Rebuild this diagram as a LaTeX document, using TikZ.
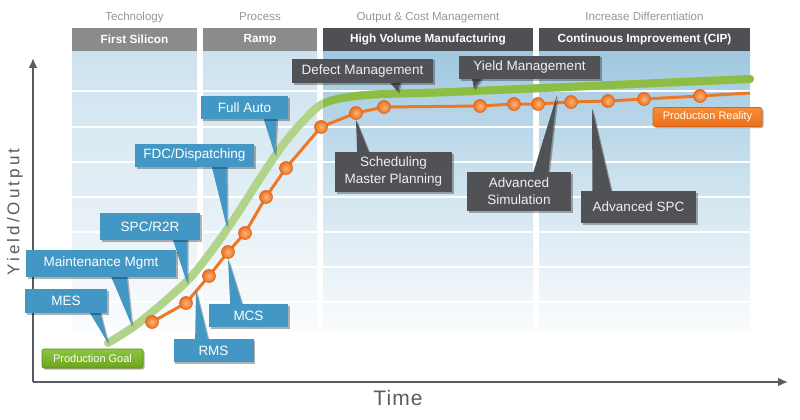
\documentclass[tikz,border=0pt]{standalone}
\usepackage{fontspec}
\setmainfont{Liberation Sans}
\usepackage{xcolor}
\usetikzlibrary{calc,shadows,arrows.meta}

\definecolor{callblue}{RGB}{67,151,197}
\definecolor{callgray}{RGB}{80,82,86}
\definecolor{barlight}{RGB}{137,139,141}
\definecolor{bardark}{RGB}{78,80,84}
\definecolor{coltopA}{RGB}{205,226,239}
\definecolor{colmidA}{RGB}{226,238,245}
\definecolor{coltopB}{RGB}{160,200,224}
\definecolor{colmidB}{RGB}{208,228,239}
\definecolor{colbot}{RGB}{250,252,253}
\definecolor{goallight}{RGB}{178,211,138}
\definecolor{goaldark}{RGB}{140,190,70}
\definecolor{realorange}{RGB}{238,120,35}
\definecolor{dotin}{RGB}{250,182,124}
\definecolor{dotout}{RGB}{236,112,30}
\definecolor{dotrim}{RGB}{222,100,25}
\definecolor{axisgray}{RGB}{88,92,96}
\definecolor{headgray}{RGB}{150,150,150}
\definecolor{goaltop}{RGB}{140,198,63}
\definecolor{goalbot}{RGB}{106,165,30}
\definecolor{goalrim}{RGB}{90,140,30}
\definecolor{realtop}{RGB}{247,140,55}
\definecolor{realbot}{RGB}{236,112,25}
\definecolor{realrim}{RGB}{215,100,25}

\pgfdeclarelayer{back}
\pgfdeclarelayer{ptr}
\pgfsetlayers{back,ptr,main}

\tikzset{
  shadowed/.style={drop shadow={shadow xshift=1.5pt,shadow yshift=-1.5pt,opacity=0.3,fill=black}},
  bluefill/.style={fill=callblue,shadowed},
  grayfill/.style={fill=callgray,shadowed},
  callout/.style={inner sep=0pt,outer sep=0pt,minimum height=23pt,align=center,
    font=\fontsize{13.5}{17}\selectfont},
  bluecall/.style={callout,bluefill,text=white},
  graycall/.style={callout,grayfill,text=black!6},
  bar/.style={minimum height=23pt,inner sep=0pt,outer sep=0pt,text=white,
    font=\bfseries\fontsize{11.8}{14}\selectfont},
  headline/.style={anchor=base,text=headgray,font=\fontsize{11.5}{14}\selectfont},
  axis/.style={axisgray,line width=2pt,-{Latex[length=10pt,width=9pt]}},
  goal/.style={goallight,line width=8pt,line cap=round},
  reality/.style={realorange,line width=3pt,line join=round},
  dot/.style={circle,minimum size=13pt,inner sep=0pt,draw=dotrim,line width=0.6pt,
    inner color=dotin,outer color=dotout},
  tag/.style={inner sep=0pt,minimum height=19pt,rounded corners=2pt,text=white,
    font=\fontsize{11}{13}\selectfont,line width=0.6pt,shadowed}
}

\begin{document}
\begin{tikzpicture}[x=1pt,y=-1pt]
  \useasboundingbox (0,0) rectangle (800,420);

  \begin{pgfonlayer}{back}
    \fill[white] (0,0) rectangle (800,420);
    % phase columns
    \foreach \xa/\xb/\tc/\mc in {72/197/coltopA/colmidA,203/317/coltopA/colmidA,
                                 323/533/coltopB/colmidB,539/750/coltopB/colmidB}
      \shade[top color=\tc,bottom color=colbot,middle color=\mc] (\xa,52) rectangle (\xb,330);
    \foreach \y in {91,127,162,197,232,267,302}
      \draw[white,line width=1.5pt] (72,\y) -- (750,\y);% row lines

    \coordinate (Origin)   at (33,382);
    \coordinate (YAxisMax) at (33,58);
    \coordinate (XAxisMax) at (788,382);
    \draw[axis] (Origin) -- (YAxisMax);% y axis
    \draw[axis] (Origin) -- (XAxisMax);% x axis

    % production goal curve
    \def\goalpath{plot[smooth,tension=0.55] coordinates {(108,343) (140,322) (185,283)
      (207,257) (232,222) (277,153) (307,117) (327,102) (367,95) (450,92) (600,85.5) (750,79)}}
    \draw[goal] \goalpath;
    \begin{scope}
      \clip (323,0) rectangle (800,420);
      \draw[goal,draw=goaldark] \goalpath;
    \end{scope}

    % production reality line
    \foreach \i/\x/\y in {1/152/322,2/186/303,3/209/276,4/228/252,5/245/233,6/266/197,
                          7/286/168,8/321/127,9/356/113,10/384/107,11/480/106,12/514/104,
                          13/538/104,14/571/102,15/608/101,16/644/99,17/700/96}
      \coordinate (p\i) at (\x,\y);
    \coordinate (pend) at (750,93);
    \draw[reality] (p1) \foreach \i in {2,...,17}{ -- (p\i)} -- (pend);
    \foreach \i in {1,...,17}
      \node[dot] (d\i) at (p\i) {};
  \end{pgfonlayer}

  % phase headers
  \node[headline] (htech) at (134.5,21) {Technology};
  \node[headline] (hproc) at (260,21) {Process};
  \node[headline] (hout)  at (428,21) {Output \& Cost Management};
  \node[headline] (hinc)  at (644.5,21) {Increase Differentiation};
  \node[bar,fill=barlight,minimum width=125pt] (bfirst) at (134.5,39.5) {First Silicon};
  \node[bar,fill=barlight,minimum width=114pt] (bramp)  at (260,39.5) {Ramp};
  \node[bar,fill=bardark,minimum width=210pt]  (bhvm)   at (428,39.5) {High Volume Manufacturing};
  \node[bar,fill=bardark,minimum width=211pt]  (bcip)   at (644.5,39.5) {Continuous Improvement (CIP)};

  % axis labels
  \node[rotate=90,text=axisgray,font=\fontsize{17}{20}\selectfont\addfontfeature{LetterSpace=18}]
    (ylabel) at (15,212) {Yield/Output};
  \node[anchor=base,text=axisgray,font=\fontsize{21}{24}\selectfont\addfontfeature{LetterSpace=5}]
    (xlabel) at (398,405) {Time};

  % curve tags
  \node[tag,draw=goalrim,top color=goaltop,bottom color=goalbot,minimum width=101pt]
    (goaltag) at (92.5,358.5) {Production Goal};
  \node[tag,draw=realrim,top color=realtop,bottom color=realbot,minimum width=109pt]
    (realtag) at (707.5,117) {Production Reality};

  % callouts
  \node[bluecall,minimum width=87pt] (fullauto) at (244.5,107.5) {Full Auto};
  \node[bluecall,minimum width=119pt] (fdc) at (194.5,155.5) {FDC/Dispatching};
  \node[bluecall,minimum width=100pt,minimum height=27pt] (spc) at (150,226.5) {SPC/R2R};
  \node[bluecall,minimum width=150pt,minimum height=27pt] (maint) at (101,263.5) {Maintenance Mgmt};
  \node[bluecall,minimum width=82pt,minimum height=24pt] (mes) at (66,301) {MES};
  \node[bluecall,minimum width=80pt] (rms) at (213.5,350.5) {RMS};
  \node[bluecall,minimum width=79pt] (mcs) at (248.5,315.5) {MCS};
  \node[graycall,minimum width=141pt,minimum height=24pt] (defect) at (362.5,71) {Defect Management};
  \node[graycall,minimum width=141pt] (yield) at (529.5,67.5) {Yield Management};
  \node[graycall,minimum width=117pt,minimum height=40pt] (sched) at (393.5,172) {Scheduling\\Master Planning};
  \node[graycall,minimum width=104pt,minimum height=39pt] (advsim) at (519,191.5) {Advanced\\Simulation};
  \node[graycall,minimum width=115pt,minimum height=32pt] (advspc) at (638.5,207) {Advanced SPC};

  % pointer tips
  \coordinate (tfullauto) at (275,155);
  \coordinate (tfdc)      at (227,228);
  \coordinate (tspc)      at (187,283);
  \coordinate (tmaint)    at (132,326);
  \coordinate (tmes)      at (108,343);
  \coordinate (trms)      at (196,290);
  \coordinate (tdefect)   at (398,92);
  \coordinate (tyield)    at (474,89);
  \coordinate (tadvsim)   at (557,95);
  \coordinate (tadvspc)   at (592,108);

  \begin{pgfonlayer}{ptr}
    \foreach \n/\f/\l/\r/\a/\b/\s/\t in {
        fullauto/bluefill/south west/south east/0.71/0.87/-3/tfullauto,
        fdc/bluefill/south west/south east/0.64/0.77/-3/tfdc,
        spc/bluefill/south west/south east/0.72/0.87/-3/tspc,
        maint/bluefill/south west/south east/0.56/0.67/-3/tmaint,
        mes/bluefill/south west/south east/0.77/0.91/-3/tmes,
        rms/bluefill/north west/north east/0.27/0.44/3/trms,
        mcs/bluefill/north west/north east/0.27/0.43/3/d4.south,
        defect/grayfill/south west/south east/0.68/0.77/-3/tdefect,
        yield/grayfill/south west/south east/0.09/0.17/-3/tyield,
        sched/grayfill/north west/north east/0.19/0.30/3/d9.south,
        advsim/grayfill/north west/north east/0.63/0.78/3/tadvsim,
        advspc/grayfill/north west/north east/0.10/0.27/3/tadvspc}
      \fill[\f] ($(\n.\l)!\a!(\n.\r)+(0,\s)$) -- (\t) -- ($(\n.\l)!\b!(\n.\r)+(0,\s)$) -- cycle;
  \end{pgfonlayer}
\end{tikzpicture}
\end{document}
